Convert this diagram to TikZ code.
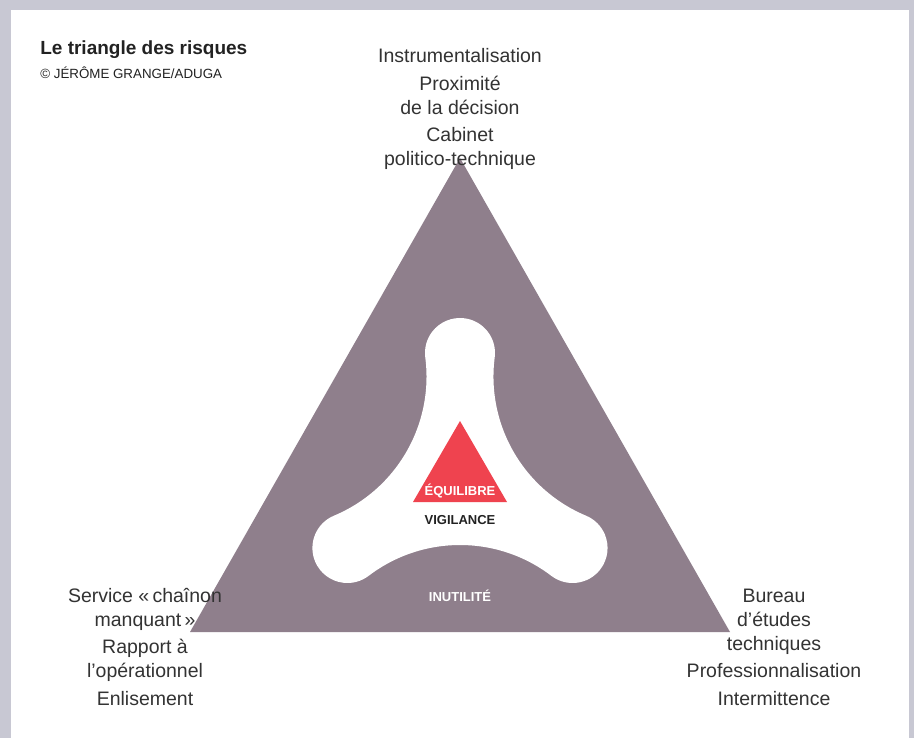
\documentclass[tikz,border=0pt]{standalone}
\usepackage{fontspec}
\setmainfont{Liberation Sans}
\usepackage{tikz}
\usetikzlibrary{calc}
\definecolor{rkframe}{RGB}{200,200,211}
\definecolor{rkmauve}{RGB}{143,127,140}
\definecolor{rkred}{RGB}{239,67,79}
\definecolor{rktext}{RGB}{51,51,51}
\definecolor{rkdark}{RGB}{34,34,34}
\tikzstyle{risk} = [font=\fontsize{11.7}{14.4}\selectfont, text=rktext, align=center, inner sep=0pt, anchor=base]
\tikzstyle{tag} = [font=\fontsize{7.8}{9}\selectfont\bfseries, inner sep=0pt, anchor=base]

\begin{document}
\begin{tikzpicture}[x=0.6pt, y=-0.6pt]
% frame
\fill[rkframe] (0,0) rectangle (914,738);
\fill[white] (11,10) rectangle (909,738);
\useasboundingbox (0,0) rectangle (914,738);

% big triangle
\coordinate (apex) at (460,158);
\coordinate (left) at (190,632);
\coordinate (right) at (730,632);
\fill[rkmauve] (apex) -- (left) -- (right) -- cycle;

% white blob with three lobes
\begin{scope}[shift={(460,483)}, yscale=-1]
\fill[white] ($(150:212.8)+(7.3:150.8)$)
  \foreach \k in {0,120,240} {
    arc[start angle=7.3+\k, end angle=-67.3+\k, radius=150.8]
    arc[start angle=112.7+\k, end angle=307.3+\k, radius=35]
  } -- cycle;
\end{scope}

% small red triangle
\fill[rkred] (460,421) -- (413,502) -- (507,502) -- cycle;

% title
\node[font=\fontsize{11.4}{13}\selectfont\bfseries, text=rkdark, anchor=base west, inner sep=0pt] (title) at (40,54) {Le triangle des risques};
\node[font=\fontsize{8}{9}\selectfont, text=rkdark, anchor=base west, inner sep=0pt] (credit) at (40,78) {© JÉRÔME GRANGE/ADUGA};

% top corner (base = last line)
\node[risk] (instr) at (460,62) {Instrumentalisation};
\node[risk] (prox) at (460,114) {Proximité\\de la décision};
\node[risk] (cab) at (460,165) {Cabinet\\politico-technique};

% left corner
\node[risk] (serv) at (145,626) {Service «\,chaînon\\manquant\,»};
\node[risk] (rapp) at (145,677) {Rapport à\\l’opérationnel};
\node[risk] (enlis) at (145,705) {Enlisement};

% right corner
\node[risk] (bureau) at (774,650) {Bureau\\d’études\\techniques};
\node[risk] (prof) at (774,677) {Professionnalisation};
\node[risk] (interm) at (774,705) {Intermittence};

% inner labels
\node[tag, text=white] (equil) at (460,495.5) {ÉQUILIBRE};
\node[tag, text=rkdark] (vigil) at (460,524) {VIGILANCE};
\node[tag, text=white] (inut) at (460,601) {INUTILITÉ};
\end{tikzpicture}
\end{document}
